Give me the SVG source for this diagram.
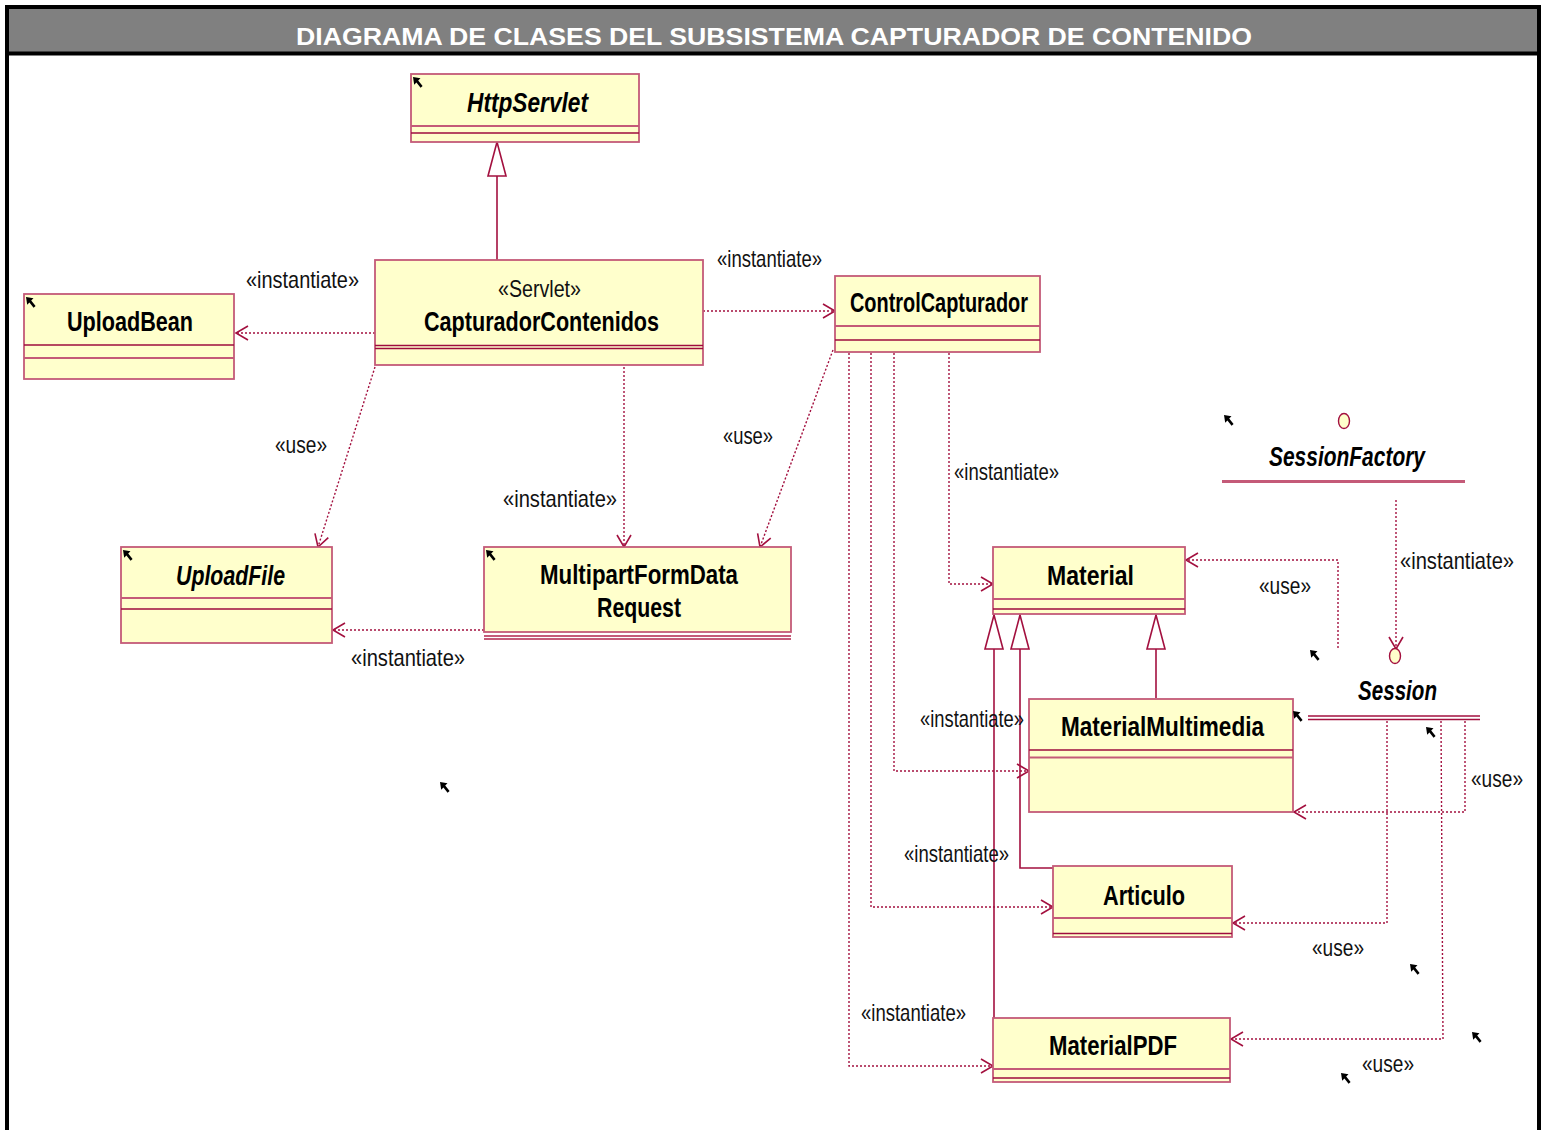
<svg xmlns="http://www.w3.org/2000/svg" xmlns:xlink="http://www.w3.org/1999/xlink" width="1549" height="1130" viewBox="0 0 1549 1130">
  <style>
    .box { fill: #ffffcc; stroke: #c45a78; stroke-width: 1.8; }
    .sep { stroke: #9e0c3e; stroke-width: 1.5; fill: none; }
    .sep2 { stroke: #c45a78; stroke-width: 1.8; fill: none; }
    .dep { stroke: #a3103f; stroke-width: 1.4; stroke-dasharray: 2 2; fill: none; }
    .gen { stroke: #a3103f; stroke-width: 1.6; fill: none; }
    .nm { font-family: "Liberation Sans Narrow", "Arial Narrow", "Liberation Sans", sans-serif; font-weight: bold; font-size: 28px; fill: #000; }
    .it { font-style: italic; }
    .lb { font-family: "Liberation Sans Narrow", "Arial Narrow", "Liberation Sans", sans-serif; font-size: 24px; fill: #111; }
    .title { font-family: "Liberation Sans", Arial, sans-serif; font-weight: bold; font-size: 24px; fill: #fff; }
    .ico { fill: #000; }
  </style>
  <defs>
    <!-- open arrowhead for dependencies -->
    <marker id="open" markerUnits="userSpaceOnUse" markerWidth="16" markerHeight="18" viewBox="0 0 16 18" refX="14" refY="9" orient="auto">
      <path d="M2,2 L14,9 L2,16" fill="none" stroke="#a3103f" stroke-width="1.6" stroke-dasharray="none"/>
    </marker>
    <!-- hollow triangle for generalization -->
    <marker id="tri" markerUnits="userSpaceOnUse" markerWidth="38" markerHeight="22" viewBox="0 0 38 22" refX="36" refY="11" orient="auto">
      <path d="M2,2 L36,11 L2,20 Z" fill="#fff" stroke="#a3103f" stroke-width="1.6"/>
    </marker>
    <!-- small pointer glyph used by the modelling tool -->
    <path id="ptr" class="ico" d="M0,0 L7.5,1.2 L5.2,3.6 L9.6,9 L7.6,10.8 L3.4,5.4 L1.2,7.8 Z"/>
  </defs>

  <!-- frame and title bar -->
  <rect x="7" y="7" width="1532" height="46" fill="#808080"/>
  <line x1="5" y1="7" x2="1541" y2="7" stroke="#000" stroke-width="4"/>
  <line x1="5" y1="53.5" x2="1541" y2="53.5" stroke="#000" stroke-width="4"/>
  <line x1="7" y1="5" x2="7" y2="1130" stroke="#000" stroke-width="4"/>
  <line x1="1539" y1="5" x2="1539" y2="1130" stroke="#000" stroke-width="4"/>
  <text class="title" x="296" y="45" textLength="956" lengthAdjust="spacingAndGlyphs">DIAGRAMA DE CLASES DEL SUBSISTEMA CAPTURADOR DE CONTENIDO</text>

  <!-- connectors -->
  <g id="connectors">
    <!-- generalizations -->
    <path class="gen" d="M497,260 L497,142" marker-end="url(#tri)"/>
    <path class="gen" d="M1156,698 L1156,615" marker-end="url(#tri)"/>
    <path class="gen" d="M1053,868 L1020,868 L1020,615" marker-end="url(#tri)"/>
    <path class="gen" d="M994,1018 L994,615" marker-end="url(#tri)"/>

    <!-- dependencies -->
    <path class="dep" d="M375,333 L236,333" marker-end="url(#open)"/>
    <path class="dep" d="M703,311 L835,311" marker-end="url(#open)"/>
    <path class="dep" d="M375,367 L318,547" marker-end="url(#open)"/>
    <path class="dep" d="M624,367 L624,547" marker-end="url(#open)"/>
    <path class="dep" d="M833,350 L760,547" marker-end="url(#open)"/>
    <path class="dep" d="M484,630 L333,630" marker-end="url(#open)"/>
    <path class="dep" d="M949,353 L949,584 L993,584" marker-end="url(#open)"/>
    <path class="dep" d="M894,353 L894,771 L1029,771" marker-end="url(#open)"/>
    <path class="dep" d="M871,353 L871,907 L1053,907" marker-end="url(#open)"/>
    <path class="dep" d="M849,353 L849,1066 L993,1066" marker-end="url(#open)"/>
    <path class="dep" d="M1338,648 L1338,560 L1186,560" marker-end="url(#open)"/>
    <path class="dep" d="M1396,500 L1396,649" marker-end="url(#open)"/>
    <path class="dep" d="M1465,721 L1465,812 L1294,812" marker-end="url(#open)"/>
    <path class="dep" d="M1387,721 L1387,923 L1233,923" marker-end="url(#open)"/>
    <path class="dep" d="M1441,721 L1443,1039 L1231,1039" marker-end="url(#open)"/>

    <!-- connector labels -->
    <text class="lb" x="246" y="288" textLength="113" lengthAdjust="spacingAndGlyphs">«instantiate»</text>
    <text class="lb" x="717" y="267" textLength="105" lengthAdjust="spacingAndGlyphs">«instantiate»</text>
    <text class="lb" x="275" y="453" textLength="52" lengthAdjust="spacingAndGlyphs">«use»</text>
    <text class="lb" x="503" y="507" textLength="114" lengthAdjust="spacingAndGlyphs">«instantiate»</text>
    <text class="lb" x="723" y="444" textLength="50" lengthAdjust="spacingAndGlyphs">«use»</text>
    <text class="lb" x="351" y="666" textLength="114" lengthAdjust="spacingAndGlyphs">«instantiate»</text>
    <text class="lb" x="954" y="480" textLength="105" lengthAdjust="spacingAndGlyphs">«instantiate»</text>
    <text class="lb" x="920" y="727" textLength="104" lengthAdjust="spacingAndGlyphs">«instantiate»</text>
    <text class="lb" x="904" y="862" textLength="105" lengthAdjust="spacingAndGlyphs">«instantiate»</text>
    <text class="lb" x="861" y="1021" textLength="105" lengthAdjust="spacingAndGlyphs">«instantiate»</text>
    <text class="lb" x="1259" y="594" textLength="52" lengthAdjust="spacingAndGlyphs">«use»</text>
    <text class="lb" x="1400" y="569" textLength="114" lengthAdjust="spacingAndGlyphs">«instantiate»</text>
    <text class="lb" x="1471" y="787" textLength="52" lengthAdjust="spacingAndGlyphs">«use»</text>
    <text class="lb" x="1312" y="956" textLength="52" lengthAdjust="spacingAndGlyphs">«use»</text>
    <text class="lb" x="1362" y="1072" textLength="52" lengthAdjust="spacingAndGlyphs">«use»</text>
  </g>

  <!-- classes -->
  <g id="HttpServlet">
    <rect class="box" x="411" y="74" width="228" height="68"/>
    <line class="sep2" x1="411" y1="126" x2="639" y2="126"/>
    <line class="sep" x1="411" y1="133" x2="639" y2="133"/>
    <text class="nm it" x="467" y="112" textLength="121" lengthAdjust="spacingAndGlyphs">HttpServlet</text>
    <use xlink:href="#ptr" x="413" y="77"/>
  </g>

  <g id="UploadBean">
    <rect class="box" x="24" y="294" width="210" height="85"/>
    <line class="sep" x1="24" y1="345" x2="234" y2="345"/>
    <line class="sep2" x1="24" y1="358" x2="234" y2="358"/>
    <text class="nm" x="67" y="331" textLength="126" lengthAdjust="spacingAndGlyphs">UploadBean</text>
    <use xlink:href="#ptr" x="26" y="297"/>
  </g>

  <g id="CapturadorContenidos">
    <rect class="box" x="375" y="260" width="328" height="105"/>
    <line class="sep" x1="375" y1="345.5" x2="703" y2="345.5"/>
    <line class="sep" x1="375" y1="348.5" x2="703" y2="348.5"/>
    <text class="lb" x="498" y="297" textLength="83" lengthAdjust="spacingAndGlyphs">«Servlet»</text>
    <text class="nm" x="424" y="331" textLength="235" lengthAdjust="spacingAndGlyphs">CapturadorContenidos</text>
  </g>

  <g id="ControlCapturador">
    <rect class="box" x="835" y="276" width="205" height="76"/>
    <line class="sep2" x1="835" y1="326" x2="1040" y2="326"/>
    <line class="sep" x1="835" y1="340" x2="1040" y2="340"/>
    <text class="nm" x="850" y="312" font-size="25" textLength="178" lengthAdjust="spacingAndGlyphs">ControlCapturador</text>
  </g>

  <g id="UploadFile">
    <rect class="box" x="121" y="547" width="211" height="96"/>
    <line class="sep2" x1="121" y1="598" x2="332" y2="598"/>
    <line class="sep" x1="121" y1="609" x2="332" y2="609"/>
    <text class="nm it" x="176" y="585" textLength="109" lengthAdjust="spacingAndGlyphs">UploadFile</text>
    <use xlink:href="#ptr" x="123" y="550"/>
  </g>

  <g id="MultipartFormDataRequest">
    <rect class="box" x="484" y="547" width="307" height="85"/>
    <line class="sep2" x1="484" y1="636" x2="791" y2="636"/>
    <line class="sep2" x1="484" y1="639" x2="791" y2="639"/>
    <text class="nm" x="540" y="584" textLength="198" lengthAdjust="spacingAndGlyphs">MultipartFormData</text>
    <text class="nm" x="597" y="617" textLength="84" lengthAdjust="spacingAndGlyphs">Request</text>
    <use xlink:href="#ptr" x="486" y="550"/>
  </g>

  <g id="Material">
    <rect class="box" x="993" y="547" width="192" height="67"/>
    <line class="sep2" x1="993" y1="599" x2="1185" y2="599"/>
    <line class="sep" x1="993" y1="609" x2="1185" y2="609"/>
    <text class="nm" x="1047" y="585" textLength="87" lengthAdjust="spacingAndGlyphs">Material</text>
  </g>

  <g id="MaterialMultimedia">
    <rect class="box" x="1029" y="699" width="264" height="113"/>
    <line class="sep" x1="1029" y1="750" x2="1293" y2="750"/>
    <line class="sep2" x1="1029" y1="757.5" x2="1293" y2="757.5"/>
    <text class="nm" x="1061" y="736" textLength="203" lengthAdjust="spacingAndGlyphs">MaterialMultimedia</text>
  </g>

  <g id="Articulo">
    <rect class="box" x="1053" y="866" width="179" height="71"/>
    <line class="sep2" x1="1053" y1="918" x2="1232" y2="918"/>
    <line class="sep" x1="1053" y1="933.5" x2="1232" y2="933.5"/>
    <text class="nm" x="1103" y="905" textLength="82" lengthAdjust="spacingAndGlyphs">Articulo</text>
  </g>

  <g id="MaterialPDF">
    <rect class="box" x="993" y="1018" width="237" height="64"/>
    <line class="sep2" x1="993" y1="1069" x2="1230" y2="1069"/>
    <line class="sep" x1="993" y1="1078" x2="1230" y2="1078"/>
    <text class="nm" x="1049" y="1055" textLength="128" lengthAdjust="spacingAndGlyphs">MaterialPDF</text>
  </g>

  <!-- interfaces (lollipop notation) -->
  <g id="SessionFactory">
    <ellipse cx="1344" cy="421" rx="5.5" ry="7.5" fill="#ffffcc" stroke="#a3103f" stroke-width="1.4"/>
    <text class="nm it" x="1269" y="466" textLength="156" lengthAdjust="spacingAndGlyphs">SessionFactory</text>
    <line x1="1222" y1="481.5" x2="1465" y2="481.5" stroke="#c45a78" stroke-width="3"/>
    <use xlink:href="#ptr" x="1224" y="415"/>
  </g>

  <g id="Session">
    <ellipse cx="1395" cy="656" rx="5.5" ry="7.5" fill="#ffffcc" stroke="#a3103f" stroke-width="1.4"/>
    <text class="nm it" x="1358" y="700" textLength="79" lengthAdjust="spacingAndGlyphs">Session</text>
    <line x1="1308" y1="716" x2="1480" y2="716" stroke="#a3103f" stroke-width="1.6"/>
    <line x1="1308" y1="719.5" x2="1480" y2="719.5" stroke="#a3103f" stroke-width="1.6"/>
  </g>

  <!-- loose pointer glyphs -->
  <use xlink:href="#ptr" x="440" y="782"/>
  <use xlink:href="#ptr" x="1310" y="650"/>
  <use xlink:href="#ptr" x="1293" y="711"/>
  <use xlink:href="#ptr" x="1426" y="727"/>
  <use xlink:href="#ptr" x="1410" y="964"/>
  <use xlink:href="#ptr" x="1472" y="1032"/>
  <use xlink:href="#ptr" x="1341" y="1073"/>
</svg>
